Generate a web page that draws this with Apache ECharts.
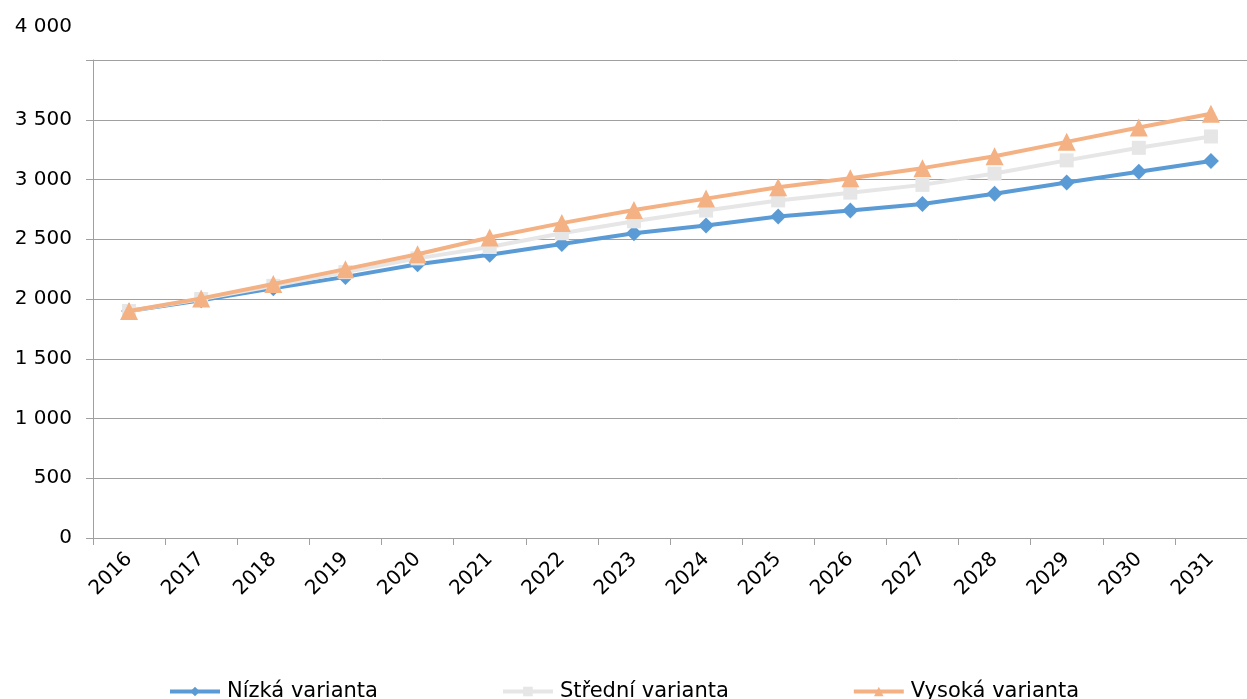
<!DOCTYPE html>
<html>
<head>
<meta charset="utf-8">
<script src="https://cdn.jsdelivr.net/npm/echarts@6/dist/echarts.min.js"></script>
<style>
html,body{margin:0;padding:0;background:#fff;}
#c{width:1247px;height:699px;}
</style>
</head>
<body>
<div id="c"></div>
<script>
const years = ['2016','2017','2018','2019','2020','2021','2022','2023','2024','2025','2026','2027','2028','2029','2030','2031'];
const seriesNames = ['Nízká varianta','Střední varianta','Vysoká varianta'];
const nizka = [1900,1990,2090,2185,2290,2370,2460,2550,2615,2690,2740,2795,2880,2975,3065,3155];
const stredni = [1900,2000,2110,2225,2340,2435,2550,2650,2740,2825,2890,2955,3050,3160,3265,3360];
const vysoka = [1900,2005,2125,2250,2375,2515,2635,2745,2840,2935,3010,3095,3195,3315,3435,3550];
const yTicks = [0,500,1000,1500,2000,2500,3000,3500,4000];

const font = 'DejaVu Sans, Verdana, sans-serif';
const colors = ['#5B9BD5','#E6E6E6','#F4B183'];
const symbols = ['diamond','rect','triangle'];
const symSizes = [16,14,18];
const dataSets = [nizka, stredni, vysoka];

function fmt(v){
  return String(v).replace(/\B(?=(\d{3})+(?!\d))/g,' ');
}

const chart = echarts.init(document.getElementById('c'), null, {renderer:'canvas'});
chart.setOption({
  animation:false,
  backgroundColor:'#fff',
  grid:{left:93, top:60, width:1166, height:478, containLabel:false},
  legend:{
    top:681, left:168, padding:0,
    itemWidth:50, itemHeight:12, itemGap:123,
    lineStyle:{width:4},
    textStyle:{fontFamily:font, fontSize:21, color:'#000', padding:[0,0,0,2]},
    data: seriesNames
  },
  xAxis:{
    type:'category', data:years, boundaryGap:true,
    axisLine:{lineStyle:{color:'#a0a0a0', width:1}},
    axisTick:{show:true, length:7, alignWithLabel:false, lineStyle:{color:'#a0a0a0'}},
    axisLabel:{rotate:45, fontFamily:font, fontSize:20, color:'#000', margin:18, interval:0}
  },
  yAxis:{
    type:'value', min:yTicks[0], max:yTicks[yTicks.length-1], interval:500,
    axisLine:{show:true, lineStyle:{color:'#a0a0a0', width:1}},
    axisTick:{show:true, length:7, lineStyle:{color:'#a0a0a0'}},
    splitLine:{show:true, lineStyle:{color:'#a0a0a0', width:1}},
    axisLabel:{
      fontFamily:font, fontSize:20, color:'#000', margin:21,
      formatter:function(v){ return v===4000 ? '{top|'+fmt(v)+'}' : fmt(v); },
      rich:{top:{fontFamily:font, fontSize:20, color:'#000', padding:[0,0,66,0]}}
    }
  },
  series: seriesNames.map((n,i)=>({
    name:n, type:'line', data:dataSets[i],
    symbol:symbols[i], symbolSize:symSizes[i], showSymbol:true,
    lineStyle:{color:colors[i], width:4},
    itemStyle:{color:colors[i]},
    z: 2+i
  }))
});
</script>
</body>
</html>
